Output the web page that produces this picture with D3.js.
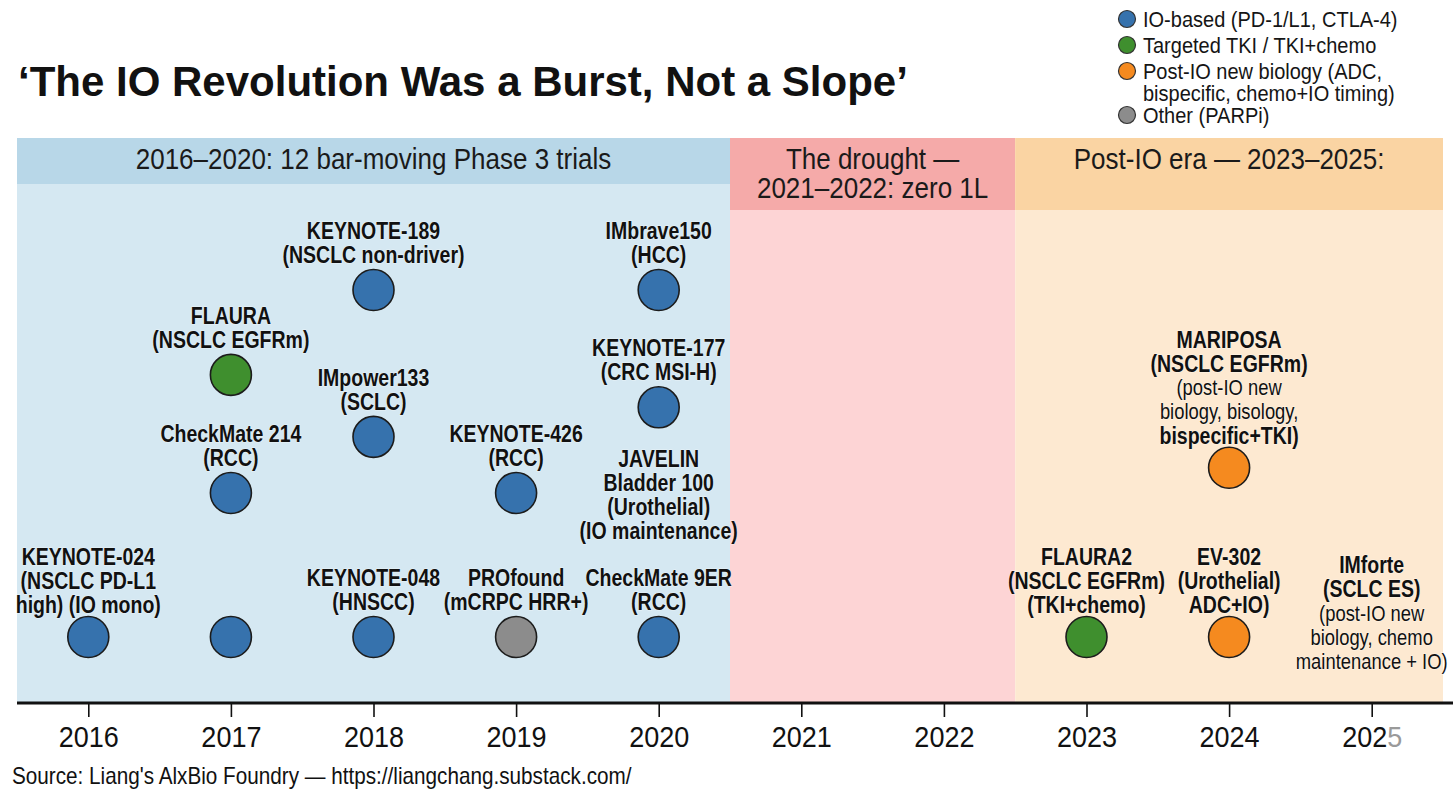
<!DOCTYPE html>
<html>
<head>
<meta charset="utf-8">
<script src="https://cdn.jsdelivr.net/npm/d3@7"></script>
<style>
  html, body { margin: 0; padding: 0; background: #ffffff; }
  svg { display: block; font-family: "Liberation Sans", Arial, sans-serif; }
</style>
</head>
<body>
<svg id="chart" width="1456" height="794"></svg>
<script>
// ---------------- DATA ----------------
const years = [2016, 2017, 2018, 2019, 2020, 2021, 2022, 2023, 2024, 2025];

const eraNames  = ["IO burst", "Drought", "Post-IO"];
const eraStart  = [2015.5, 2020.5, 2022.5];
const eraEnd    = [2020.5, 2022.5, 2025.5];
const eraTitles = [
  ["2016–2020: 12 bar-moving Phase 3 trials"],
  ["The drought —", "2021–2022: zero 1L"],
  ["Post-IO era — 2023–2025:"]
];

const trialNames  = ["KEYNOTE-024", "(unlabeled)", "FLAURA", "CheckMate 214", "KEYNOTE-189", "IMpower133",
                     "KEYNOTE-048", "KEYNOTE-426", "PROfound", "IMbrave150", "KEYNOTE-177", "CheckMate 9ER",
                     "FLAURA2", "MARIPOSA", "EV-302"];
const trialYears  = [2016, 2017, 2017, 2017, 2018, 2018, 2018, 2019, 2019, 2020, 2020, 2020, 2023, 2024, 2024];
const trialLevels = [1.0, 1.0, 4.64, 3.0, 5.82, 3.78, 1.0, 3.0, 1.0, 5.82, 4.19, 1.0, 1.0, 3.35, 1.0];
const trialClass  = ["io", "io", "tki", "io", "io", "io", "io", "io", "other", "io", "io", "io", "tki", "postio", "postio"];
// label lines: [text, bold]
const trialLabels = [
  [["KEYNOTE-024", 1], ["(NSCLC PD-L1", 1], ["high) (IO mono)", 1]],
  [],
  [["FLAURA", 1], ["(NSCLC EGFRm)", 1]],
  [["CheckMate 214", 1], ["(RCC)", 1]],
  [["KEYNOTE-189", 1], ["(NSCLC non-driver)", 1]],
  [["IMpower133", 1], ["(SCLC)", 1]],
  [["KEYNOTE-048", 1], ["(HNSCC)", 1]],
  [["KEYNOTE-426", 1], ["(RCC)", 1]],
  [["PROfound", 1], ["(mCRPC HRR+)", 1]],
  [["IMbrave150", 1], ["(HCC)", 1]],
  [["KEYNOTE-177", 1], ["(CRC MSI-H)", 1]],
  [["CheckMate 9ER", 1], ["(RCC)", 1]],
  [["FLAURA2", 1], ["(NSCLC EGFRm)", 1], ["(TKI+chemo)", 1]],
  [["MARIPOSA", 1], ["(NSCLC EGFRm)", 1], ["(post-IO new", 0], ["biology, bisology,", 0], ["bispecific+TKI)", 1]],
  [["EV-302", 1], ["(Urothelial)", 1], ["ADC+IO)", 1]]
];

// label-only annotations (no marker drawn)
const noteYears  = [2020, 2025];
const noteLevels = [2.03, 0.22];
const noteLabels = [
  [["JAVELIN", 1], ["Bladder 100", 1], ["(Urothelial)", 1], ["(IO maintenance)", 1]],
  [["IMforte", 1], ["(SCLC ES)", 1], ["(post-IO new", 0], ["biology, chemo", 0], ["maintenance + IO)", 0]]
];

const classKeys   = ["io", "tki", "postio", "other"];
const classColors = ["#3672ad", "#3f8f2e", "#f58a1f", "#8c8c8c"];
const legendLines = [
  ["IO-based (PD-1/L1, CTLA-4)"],
  ["Targeted TKI / TKI+chemo"],
  ["Post-IO new biology (ADC,", "bispecific, chemo+IO timing)"],
  ["Other (PARPi)"]
];

const titleText  = "‘The IO Revolution Was a Burst, Not a Slope’";
const sourceText = "Source: Liang's AlxBio Foundry — https://liangchang.substack.com/";

// ---------------- STYLE ----------------
const eraBody   = ["#d5e8f2", "#fdd4d5", "#fde9d1"];
const eraHeader = ["#b8d7e8", "#f5aaa9", "#fad4a3"];
const eraHeaderH = [46, 72, 72];

const svg = d3.select("#chart");
const bandTop = 138, axisY = 703;

const x = d3.scaleLinear().domain([2015.5, 2025.5]).range([17, 1443]);
const y = d3.scaleLinear().domain([0, 7]).range([709, 205]);
const color = d3.scaleOrdinal().domain(classKeys).range(classColors);

// condensed look: squeeze glyphs horizontally
function condense(sel, factor) {
  sel.each(function () {
    const len = this.getComputedTextLength();
    d3.select(this).attr("textLength", len * factor).attr("lengthAdjust", "spacingAndGlyphs");
  });
}

// Title
svg.append("text")
  .attr("x", 18).attr("y", 96)
  .attr("font-size", 42).attr("font-weight", "bold").attr("fill", "#111")
  .text(titleText);

// Legend
const leg = svg.append("g");
let ly = 19;
legendLines.forEach((lines, i) => {
  leg.append("circle").attr("cx", 1127).attr("cy", ly).attr("r", 8.5)
    .attr("fill", classColors[i]).attr("stroke", "#333").attr("stroke-width", 1.2);
  lines.forEach((t, j) => {
    leg.append("text").attr("x", 1143).attr("y", ly + j * 22)
      .attr("dominant-baseline", "central").attr("font-size", 22.5).attr("fill", "#151515")
      .text(t).call(condense, 20 / 22.5);
  });
  ly += 26 + (lines.length - 1) * 18;
});

// Era bands
const eras = svg.append("g");
eraNames.forEach((n, i) => {
  const x0 = x(eraStart[i]), x1 = x(eraEnd[i]);
  eras.append("rect").attr("x", x0).attr("y", bandTop).attr("width", x1 - x0).attr("height", axisY - bandTop)
    .attr("fill", eraBody[i]);
  eras.append("rect").attr("x", x0).attr("y", bandTop).attr("width", x1 - x0).attr("height", eraHeaderH[i])
    .attr("fill", eraHeader[i]);
  eraTitles[i].forEach((t, j) => {
    eras.append("text").attr("x", (x0 + x1) / 2).attr("y", 159 + j * 29)
      .attr("text-anchor", "middle").attr("dominant-baseline", "central")
      .attr("font-size", 29).attr("fill", "#1a1a1a").text(t).call(condense, 26 / 29);
  });
});

// Label helper
function drawLabel(g, cx, cy, lines) {
  const n = lines.length;
  const off = n > 2 ? 32 : 35;
  lines.forEach((ln, i) => {
    g.append("text")
      .attr("x", cx)
      .attr("y", cy - off - (n - 1 - i) * 24)
      .attr("text-anchor", "middle").attr("dominant-baseline", "central")
      .attr("font-size", ln[1] ? 23 : 22.5)
      .attr("font-weight", ln[1] ? "bold" : "normal")
      .attr("fill", "#111")
      .attr("stroke", "#ffffff").attr("stroke-width", 1.2).attr("stroke-opacity", 0.5)
      .attr("paint-order", "stroke")
      .text(ln[0])
      .call(condense, ln[1] ? 19.5 / 23 : 18.4 / 22.5);
  });
}

const marks = svg.append("g");
trialNames.forEach((name, i) => {
  const cx = x(trialYears[i]), cy = y(trialLevels[i]);
  marks.append("circle").attr("cx", cx).attr("cy", cy).attr("r", 20.5)
    .attr("fill", color(trialClass[i])).attr("stroke", "#1c1c1c").attr("stroke-width", 1.6);
  drawLabel(marks, cx, cy, trialLabels[i]);
});
noteYears.forEach((yr, i) => {
  drawLabel(marks, x(yr), y(noteLevels[i]), noteLabels[i]);
});

// Axis
const axis = d3.axisBottom(x).tickValues(years).tickFormat(d3.format("d")).tickSize(14).tickPadding(9);
const ag = svg.append("g").attr("transform", `translate(0,${axisY})`).call(axis);
ag.select(".domain").remove();
ag.selectAll(".tick line").attr("stroke", "#111").attr("stroke-width", 1.6);
ag.selectAll(".tick text").attr("font-size", 29).attr("fill", "#111")
  .attr("font-family", "'Liberation Sans', Arial, sans-serif");
ag.append("line").attr("x1", x(2015.5)).attr("x2", x(2025.5) + 10).attr("y1", 0).attr("y2", 0)
  .attr("stroke", "#111").attr("stroke-width", 3.2);
// last tick: faded final digit as in the reference
ag.selectAll(".tick text").filter(d => d === 2025).each(function (d) {
  const s = String(d);
  const t = d3.select(this).text("");
  t.append("tspan").text(s.slice(0, 3));
  t.append("tspan").attr("fill", "#9a9a9a").text(s.slice(3));
});
ag.selectAll(".tick text").call(condense, 27 / 29);

// Source
svg.append("text").attr("x", 12).attr("y", 775)
  .attr("dominant-baseline", "central").attr("font-size", 24).attr("fill", "#111")
  .text(sourceText).call(condense, 20.7 / 24);
</script>
</body>
</html>
